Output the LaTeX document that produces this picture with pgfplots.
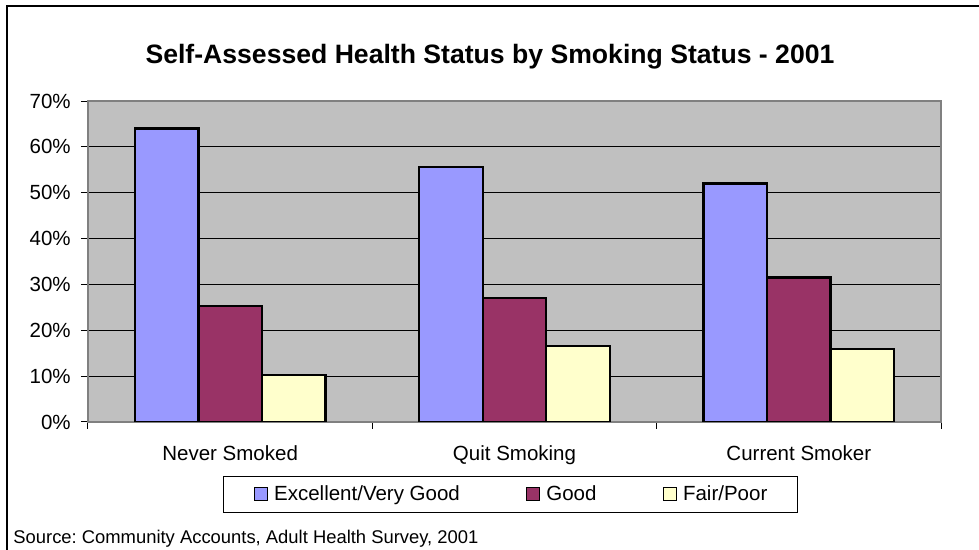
\documentclass[border=0pt]{standalone}
\usepackage{pgfplots}
\pgfplotsset{compat=1.18}
\usepackage{fontspec}
\setmainfont{Liberation Sans}

\definecolor{excgood}{HTML}{9999FF}
\definecolor{good}{HTML}{993366}
\definecolor{fairpoor}{HTML}{FFFFCC}
\definecolor{plotbg}{HTML}{C0C0C0}

\pgfplotsset{
  sqlegend/.style={legend image code/.code={%
      \draw[##1,line width=0.75pt] (0pt,0pt) rectangle (6.5pt,6.5pt);}},
}

\begin{document}
\frenchspacing
\begin{tikzpicture}
\useasboundingbox (0,0) rectangle (489.5pt,275pt);
% outer frame (left and top only, the rest is cropped)
\draw[line width=1pt] (3.5pt,0) -- (3.5pt,272pt) -- (489.5pt,272pt);

\node[font=\bfseries\fontsize{13.3}{16}\selectfont, anchor=base]
  at (245pt,243pt) {Self-Assessed Health Status by Smoking Status - 2001};

\begin{axis}[
  at={(44pt,64pt)}, anchor=south west,
  width=426.5pt, height=160.5pt, scale only axis,
  axis background/.style={fill=plotbg},
  ybar=0pt, bar width=31.75pt,
  xmin=-0.5, xmax=2.5, ymin=0, ymax=70,
  xtick={0,1,2},
  xticklabels={Never Smoked,Quit Smoking,Current Smoker},
  major x tick style={draw=none},
  minor xtick={-0.5,0.5,1.5,2.5},
  ytick={0,10,...,70},
  yticklabel={\pgfmathprintnumber{\tick}\%},
  /pgf/number format/assume math mode=true,
  tick pos=left,
  ymajorgrids,
  grid style={black, line width=0.5pt},
  tick align=outside,
  major tick length=3.5pt, minor tick length=3.5pt,
  tick style={black, line width=0.5pt},
  axis line style={gray, line width=0.75pt},
  tick label style={font=\fontsize{10.25}{12}\selectfont},
  xticklabel style={yshift=-5pt},
  yticklabel style={xshift=-1.6pt},
  every axis plot/.append style={draw=black, line width=1.1pt, sqlegend},
  legend style={
    at={(0.4953,-0.2259)}, anchor=center,
    draw=black, line width=0.5pt,
    font=\fontsize{10.25}{12}\selectfont,
    inner xsep=15pt, inner ysep=4.4pt,
    nodes={inner sep=0pt, anchor=base west},
    column sep=3pt,
  },
  legend columns=3,
]
\addplot[fill=excgood] coordinates {(0,64.0) (1,55.6) (2,52.0)};
\addplot[fill=good] coordinates {(0,25.3) (1,27.1) (2,31.5)};
\addplot[fill=fairpoor] coordinates {(0,10.2) (1,16.6) (2,16.0)};
\legend{Excellent/Very Good\rule{30pt}{0pt},Good\rule{30pt}{0pt},Fair/Poor}
\end{axis}

\node[anchor=base west, inner sep=0pt, font=\fontsize{9.2}{11}\selectfont]
  at (6.5pt,3pt) {Source: Community Accounts, Adult Health Survey, 2001};
\end{tikzpicture}
\end{document}
